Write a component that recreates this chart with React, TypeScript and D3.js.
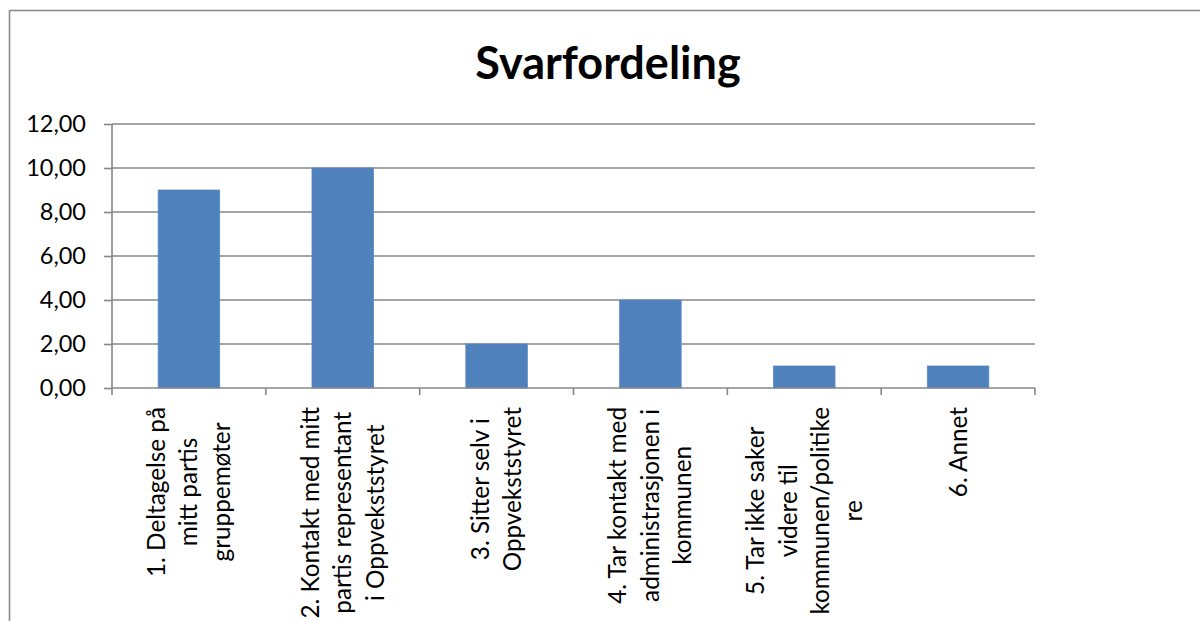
import { useRef, useEffect } from 'react';
import * as d3 from 'd3';

const W = 1200;
const H = 621;
const MARGIN = { top: 124, right: 165, bottom: 233, left: 112 };
const FONT = 'Lato, "Liberation Sans", sans-serif';

const title = 'Svarfordeling';
const categories = ['1', '2', '3', '4', '5', '6'];
const values = [9, 10, 2, 4, 1, 1];
const labelLines = [
  ['1. Deltagelse på', 'mitt partis', 'gruppemøter'],
  ['2. Kontakt med mitt', 'partis representant', 'i Oppvekststyret'],
  ['3. Sitter selv i', 'Oppvekststyret'],
  ['4. Tar kontakt med', 'administrasjonen i', 'kommunen'],
  ['5. Tar ikke saker', 'videre til', 'kommunen/politike', 're'],
  ['6. Annet'],
];
const yTicks = [0, 2, 4, 6, 8, 10, 12];

export default function App() {
  const svgRef = useRef<SVGSVGElement>(null);

  useEffect(() => {
    const svg = d3.select(svgRef.current);
    svg.selectAll('*').remove();

    const w = W - MARGIN.left - MARGIN.right;
    const h = H - MARGIN.top - MARGIN.bottom;
    const x = d3.scaleBand().domain(categories).range([0, w]).paddingInner(0.6).paddingOuter(0.3);
    const xb = d3.scaleBand().domain(categories).range([0, w]);
    const y = d3.scaleLinear().domain([0, 12]).range([h, 0]);

    svg.append('rect').attr('width', W).attr('height', H).attr('fill', '#fff');
    // outer chart border (runs off the right and bottom)
    svg.append('rect')
      .attr('x', 9.5).attr('y', 10.5).attr('width', W + 20).attr('height', H + 20)
      .attr('fill', 'none').attr('stroke', '#8c8c8c').attr('stroke-width', 1.6);

    svg.append('text')
      .attr('x', 608).attr('y', 79)
      .attr('text-anchor', 'middle')
      .attr('font-family', FONT).attr('font-weight', 'bold').attr('font-size', 45)
      .attr('fill', '#000').text(title);

    const g = svg.append('g').attr('transform', `translate(${MARGIN.left},${MARGIN.top})`);

    // gridlines
    g.selectAll('.grid').data(yTicks.filter(t => t > 0)).join('line')
      .attr('x1', 0).attr('x2', w)
      .attr('y1', d => y(d)).attr('y2', d => y(d))
      .attr('stroke', '#878787').attr('stroke-width', 1.6);

    // y axis
    const yAxis = g.append('g').call(
      d3.axisLeft(y).tickValues(yTicks).tickSize(8).tickPadding(18)
        .tickFormat(d => d3.format('.2f')(d as number).replace('.', ','))
    );
    yAxis.select('.domain').remove();
    yAxis.selectAll('line').attr('stroke', '#878787').attr('stroke-width', 1.6);
    yAxis.selectAll('text').attr('font-family', FONT).attr('font-size', 23.5).attr('fill', '#000');
    g.append('line').attr('x1', 0).attr('x2', 0).attr('y1', 0).attr('y2', h + 7)
      .attr('stroke', '#878787').attr('stroke-width', 1.6);

    // bars
    g.selectAll('.bar').data(values).join('rect')
      .attr('x', (_, i) => x(categories[i])!)
      .attr('width', x.bandwidth())
      .attr('y', d => y(d))
      .attr('height', d => h - y(d))
      .attr('fill', '#4f81bd')
      .attr('stroke', '#5a8ac6').attr('stroke-width', 0.8);

    // x axis
    g.append('line').attr('x1', 0).attr('x2', w).attr('y1', h).attr('y2', h)
      .attr('stroke', '#878787').attr('stroke-width', 1.6);
    g.selectAll('.xtick').data(categories).join('line')
      .attr('x1', d => xb(d)! + xb.bandwidth()).attr('x2', d => xb(d)! + xb.bandwidth())
      .attr('y1', h).attr('y2', h + 7)
      .attr('stroke', '#878787').attr('stroke-width', 1.6);

    // rotated multi-line category labels
    const lineGap = 32.5;
    categories.forEach((c, i) => {
      const lines = labelLines[i];
      const cx = xb(c)! + xb.bandwidth() / 2;
      const lg = g.append('g');
      const texts = lines.map(t => lg.append('text')
        .attr('text-anchor', 'middle')
        .attr('font-family', FONT).attr('font-size', 24.3).attr('fill', '#000')
        .attr('dy', '0.35em')
        .text(t));
      const maxLen = d3.max(texts, t => (t.node() as SVGTextElement).getComputedTextLength()) || 0;
      const cy = h + 19 + maxLen / 2;
      texts.forEach((t, j) => {
        const off = (j - (lines.length - 1) / 2) * lineGap;
        t.attr('transform', `translate(${cx + off},${cy}) rotate(-90)`);
      });
    });
  }, []);

  return (
    <svg ref={svgRef} width={W} height={H}
      style={{ position: 'absolute', left: 0, top: 0, display: 'block' }} />
  );
}
